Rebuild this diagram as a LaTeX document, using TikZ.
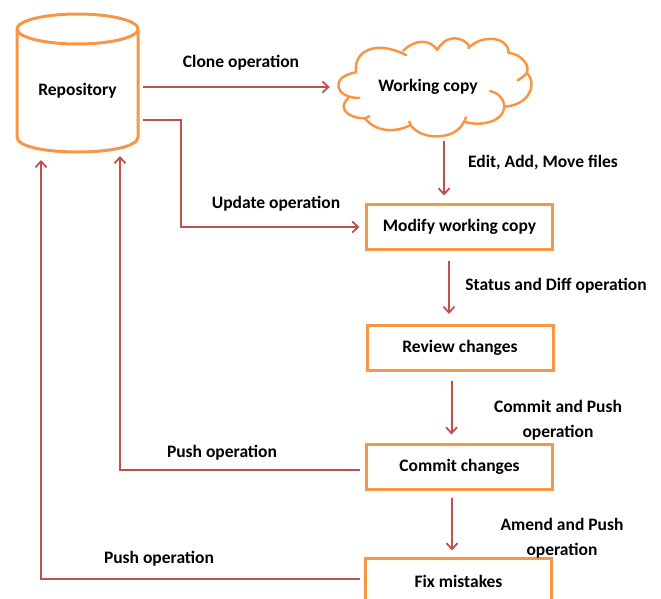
\documentclass[tikz,border=0pt]{standalone}
\usepackage{fontspec}
\setmainfont{Carlito}
\usetikzlibrary{arrows.meta}
\definecolor{boxorange}{HTML}{F79646}
\definecolor{flowred}{HTML}{C0504D}
\tikzset{
  txt/.style={font=\fontsize{17.5}{25}\selectfont\bfseries,text=black,align=center,inner sep=0pt},
  stepbox/.style={txt,draw=boxorange,line width=3pt,minimum width=186pt,minimum height=45pt,outer sep=0pt},
  flow/.style={draw=flowred,line width=2pt,-{Straight Barb[length=6pt,width=11pt,line width=1.8pt]}},
  outline/.style={draw=boxorange,line width=2.5pt,line cap=round,fill=none},
}
\begin{document}
\begin{tikzpicture}[x=1pt,y=-1pt]
\clip (0,0) rectangle (661,599);
\node[txt,minimum width=121pt,minimum height=124pt,outer sep=0pt] (repo) at (77.5,91) {Repository};
\draw[draw=boxorange,line width=3pt]
  (repo.west |- 0,29) arc[start angle=180,end angle=540,x radius=60.5pt,y radius=-15pt]
  (repo.west |- 0,29) -- (repo.west |- 0,137)
  .. controls (repo.west |- 0,147) and (47,152) .. (77.5,152)
  .. controls (108,152) and (repo.east |- 0,147) .. (repo.east |- 0,137)
  -- (repo.east |- 0,29);
\node[stepbox] (modify) at (459.5,227) {Modify working copy};
\node[stepbox] (review) at (460,347.5) {Review changes};
\node[stepbox] (commit) at (459.5,467) {Commit changes};
\node[stepbox] (fix) at (458.5,581) {Fix mistakes};
\node[txt,minimum width=190pt,minimum height=96pt] (wc) at (428,87) {Working copy};
% cloud outline, lobe by lobe
\begin{scope}[shift={(320,30)},x=0.3333pt,y=-0.3333pt]
\draw[outline]
 (118,204) .. controls (45,205) and (27,140) .. (108,127)
 (108,127) .. controls (100,60) and (170,30) .. (258,75)
 (250,62) .. controls (285,27) and (330,27) .. (352,60)
 (352,60) .. controls (375,15) and (425,15) .. (450,50)
 (445,55) .. controls (480,15) and (565,15) .. (566,70)
 (566,68) .. controls (610,75) and (630,110) .. (620,128)
 (593,151) .. controls (612,140) and (618,132) .. (620,128)
 (620,128) .. controls (655,165) and (625,225) .. (555,230)
 (510,183) .. controls (560,195) and (570,250) .. (520,272)
 (520,272) .. controls (490,285) and (455,282) .. (432,275)
 (438,262) .. controls (436,270) and (434,272) .. (432,275)
 (432,275) .. controls (405,335) and (300,330) .. (272,285)
 (272,285) .. controls (272,282) and (270,278) .. (268,275)
 (272,285) .. controls (225,310) and (165,305) .. (135,265)
 (148,259) .. controls (142,262) and (138,264) .. (135,265)
 (135,265) .. controls (85,265) and (50,235) .. (85,205);
\end{scope}
\draw[flow] ([xshift=5pt,yshift=4pt]repo.east) -- ([xshift=-3pt]wc.west |- 0,87);
\draw[flow] ([xshift=5pt,yshift=-29pt]repo.east) -| (181,174) |- ([xshift=-7pt]modify.west);
\draw[flow] ([xshift=16pt,yshift=-6pt]wc.south) -- ([xshift=16pt,yshift=9pt]wc.south |- modify.north);
\draw[flow] ([xshift=-10.5pt,yshift=-11pt]modify.south) -- ([xshift=-10.5pt,yshift=11pt]modify.south |- review.north);
\draw[flow] ([xshift=-8.5pt,yshift=-11pt]review.south) -- ([xshift=-8.5pt,yshift=10pt]review.south |- commit.north);
\draw[flow] ([xshift=-7.5pt,yshift=-8pt]commit.south) -- ([xshift=-7.5pt,yshift=8pt]commit.south |- fix.north);
\draw[flow] ([xshift=-7pt,yshift=-3pt]commit.west) -| ([yshift=-3pt]repo.south -| 120,0);
\draw[flow] ([xshift=-6pt,yshift=2pt]fix.west) -| ([yshift=-7pt]repo.south -| 41,0);
\node[txt] (l1) at (241,62.5) {Clone operation};
\node[txt] (l2) at (276,203.5) {Update operation};
\node[txt] (l3) at (543,162.5) {Edit, Add, Move files};
\node[txt] (l4) at (556,285.5) {Status and Diff operation};
\node[txt] (l5) at (558,420) {Commit and Push\\operation};
\node[txt] (l6) at (562,538) {Amend and Push\\operation};
\node[txt] (l7) at (222,452.5) {Push operation};
\node[txt] (l8) at (159,558.5) {Push operation};
\end{tikzpicture}
\end{document}
